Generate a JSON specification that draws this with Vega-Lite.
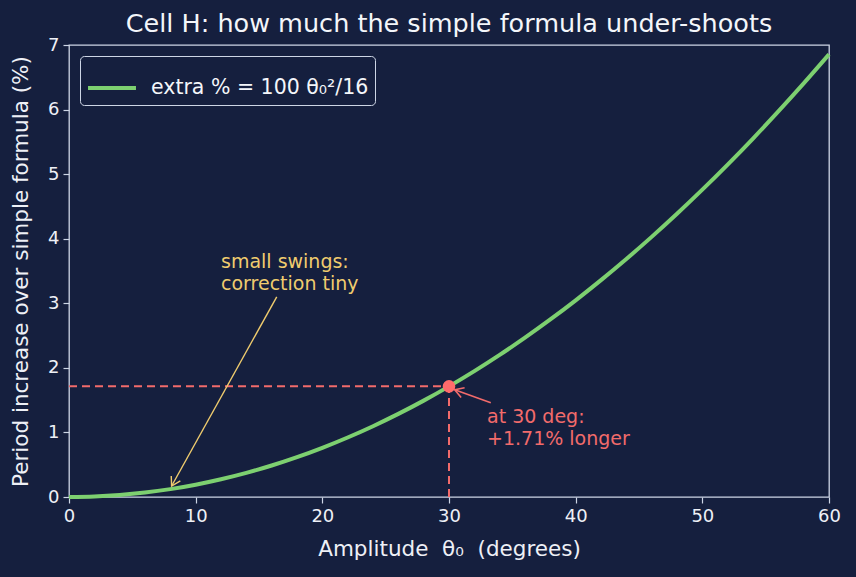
{
  "$schema": "https://vega.github.io/schema/vega-lite/v6.json",
  "width": 760,
  "height": 452,
  "autosize": {"type": "none"},
  "padding": {"left": 69, "top": 45, "right": 27, "bottom": 80},
  "background": "#151f3e",
  "title": {
    "text": "Cell H: how much the simple formula under-shoots",
    "fontSize": 25.5,
    "fontWeight": "normal",
    "color": "#f4f6fa",
    "anchor": "middle",
    "offset": -1,
    "font": "DejaVu Sans"
  },
  "datasets": {
    "curve": [
      {"deg": 0, "extra": 0, "series": "extra % = 100 θ₀²/16"},
      {"deg": 2, "extra": 0.0076, "series": "extra % = 100 θ₀²/16"},
      {"deg": 4, "extra": 0.0305, "series": "extra % = 100 θ₀²/16"},
      {"deg": 6, "extra": 0.0685, "series": "extra % = 100 θ₀²/16"},
      {"deg": 8, "extra": 0.1218, "series": "extra % = 100 θ₀²/16"},
      {"deg": 10, "extra": 0.1904, "series": "extra % = 100 θ₀²/16"},
      {"deg": 12, "extra": 0.2742, "series": "extra % = 100 θ₀²/16"},
      {"deg": 14, "extra": 0.3732, "series": "extra % = 100 θ₀²/16"},
      {"deg": 16, "extra": 0.4874, "series": "extra % = 100 θ₀²/16"},
      {"deg": 18, "extra": 0.6168, "series": "extra % = 100 θ₀²/16"},
      {"deg": 20, "extra": 0.7615, "series": "extra % = 100 θ₀²/16"},
      {"deg": 22, "extra": 0.9215, "series": "extra % = 100 θ₀²/16"},
      {"deg": 24, "extra": 1.0966, "series": "extra % = 100 θ₀²/16"},
      {"deg": 26, "extra": 1.287, "series": "extra % = 100 θ₀²/16"},
      {"deg": 28, "extra": 1.4926, "series": "extra % = 100 θ₀²/16"},
      {"deg": 30, "extra": 1.7135, "series": "extra % = 100 θ₀²/16"},
      {"deg": 32, "extra": 1.9496, "series": "extra % = 100 θ₀²/16"},
      {"deg": 34, "extra": 2.2009, "series": "extra % = 100 θ₀²/16"},
      {"deg": 36, "extra": 2.4674, "series": "extra % = 100 θ₀²/16"},
      {"deg": 38, "extra": 2.7492, "series": "extra % = 100 θ₀²/16"},
      {"deg": 40, "extra": 3.0462, "series": "extra % = 100 θ₀²/16"},
      {"deg": 42, "extra": 3.3584, "series": "extra % = 100 θ₀²/16"},
      {"deg": 44, "extra": 3.6859, "series": "extra % = 100 θ₀²/16"},
      {"deg": 46, "extra": 4.0286, "series": "extra % = 100 θ₀²/16"},
      {"deg": 48, "extra": 4.3865, "series": "extra % = 100 θ₀²/16"},
      {"deg": 50, "extra": 4.7597, "series": "extra % = 100 θ₀²/16"},
      {"deg": 52, "extra": 5.148, "series": "extra % = 100 θ₀²/16"},
      {"deg": 54, "extra": 5.5517, "series": "extra % = 100 θ₀²/16"},
      {"deg": 56, "extra": 5.9705, "series": "extra % = 100 θ₀²/16"},
      {"deg": 58, "extra": 6.4046, "series": "extra % = 100 θ₀²/16"},
      {"deg": 60, "extra": 6.8539, "series": "extra % = 100 θ₀²/16"}
    ],
    "guides": [
      {"x1": 0, "x2": 30, "y1": 1.7135, "y2": 1.7135},
      {"x1": 30, "x2": 30, "y1": 0, "y2": 1.7135}
    ],
    "marker": [{"deg": 30, "extra": 1.7135}],
    "arrows": [
      {"name": "small", "x1": 16.4, "y1": 3.1, "x2": 8.1, "y2": 0.17},
      {"name": "big", "x1": 33.3, "y1": 1.46, "x2": 30.45, "y2": 1.66}
    ],
    "notes": [
      {"name": "small", "x": 12, "y": 3.2, "label": ["small swings:", "correction tiny"]},
      {"name": "big", "x": 33, "y": 0.8, "label": ["at 30 deg:", "+1.71% longer"]}
    ]
  },
  "layer": [
    {
      "data": {"name": "curve"},
      "mark": {"type": "line", "strokeWidth": 4, "interpolate": "monotone"},
      "encoding": {
        "x": {
          "field": "deg", "type": "quantitative",
          "scale": {"domain": [0, 60], "nice": false, "zero": false},
          "axis": {"values": [0, 10, 20, 30, 40, 50, 60], "format": "d", "labelFlush": false, "title": "Amplitude\u00a0 θ₀\u00a0 (degrees)", "titlePadding": 13}
        },
        "y": {
          "field": "extra", "type": "quantitative",
          "scale": {"domain": [0, 7], "nice": false},
          "axis": {"values": [0, 1, 2, 3, 4, 5, 6, 7], "format": "d", "labelFlush": false, "title": "Period increase over simple formula (%)", "titlePadding": 15}
        },
        "color": {
          "field": "series", "type": "nominal",
          "scale": {"range": ["#7dd070"]},
          "legend": {
            "title": null,
            "orient": "top-left",
            "offset": 11,
            "padding": 6,
            "symbolType": "stroke",
            "symbolSize": 2300,
            "symbolStrokeWidth": 4,
            "labelFontSize": 20.5,
            "labelLimit": 500,
            "labelColor": "#f4f6fa",
            "labelOffset": 13,
            "strokeColor": "#cdd5e5",
            "fillColor": "#151f3e",
            "cornerRadius": 4
          }
        }
      }
    },
    {
      "data": {"name": "guides"},
      "mark": {"type": "rule", "color": "#f26b6b", "strokeWidth": 2, "strokeDash": [8, 5]},
      "encoding": {
        "x": {"field": "x1", "type": "quantitative"},
        "x2": {"field": "x2"},
        "y": {"field": "y1", "type": "quantitative"},
        "y2": {"field": "y2"}
      }
    },
    {
      "data": {"name": "marker"},
      "mark": {"type": "point", "filled": true, "color": "#ff6b6b", "size": 160, "opacity": 1},
      "encoding": {
        "x": {"field": "deg", "type": "quantitative"},
        "y": {"field": "extra", "type": "quantitative"}
      }
    },
    {
      "data": {"name": "arrows"},
      "transform": [{"filter": "datum.name === 'small'"}],
      "mark": {"type": "rule", "color": "#f0cc6e", "strokeWidth": 1.4},
      "encoding": {
        "x": {"field": "x1", "type": "quantitative"},
        "x2": {"field": "x2"},
        "y": {"field": "y1", "type": "quantitative"},
        "y2": {"field": "y2"}
      }
    },
    {
      "data": {"name": "arrows"},
      "transform": [{"filter": "datum.name === 'small'"}],
      "mark": {"type": "point", "shape": "M -1 -0.6 L 0 0 L -1 0.6", "filled": false, "color": "#f0cc6e", "strokeWidth": 1.4, "size": 300, "angle": 119, "opacity": 1},
      "encoding": {
        "x": {"field": "x2", "type": "quantitative"},
        "y": {"field": "y2", "type": "quantitative"}
      }
    },
    {
      "data": {"name": "arrows"},
      "transform": [{"filter": "datum.name === 'big'"}],
      "mark": {"type": "rule", "color": "#f26b6b", "strokeWidth": 1.6},
      "encoding": {
        "x": {"field": "x1", "type": "quantitative"},
        "x2": {"field": "x2"},
        "y": {"field": "y1", "type": "quantitative"},
        "y2": {"field": "y2"}
      }
    },
    {
      "data": {"name": "arrows"},
      "transform": [{"filter": "datum.name === 'big'"}],
      "mark": {"type": "point", "shape": "M -1 -0.6 L 0 0 L -1 0.6", "filled": false, "color": "#f26b6b", "strokeWidth": 1.6, "size": 300, "angle": 199.5, "opacity": 1},
      "encoding": {
        "x": {"field": "x2", "type": "quantitative"},
        "y": {"field": "y2", "type": "quantitative"}
      }
    },
    {
      "data": {"name": "notes"},
      "transform": [{"filter": "datum.name === 'small'"}],
      "mark": {"type": "text", "align": "left", "baseline": "alphabetic", "fontSize": 19, "color": "#f0cc6e", "lineHeight": 22, "dy": -22},
      "encoding": {
        "x": {"field": "x", "type": "quantitative"},
        "y": {"field": "y", "type": "quantitative"},
        "text": {"field": "label"}
      }
    },
    {
      "data": {"name": "notes"},
      "transform": [{"filter": "datum.name === 'big'"}],
      "mark": {"type": "text", "align": "left", "baseline": "alphabetic", "fontSize": 19, "color": "#f26b6b", "lineHeight": 22, "dy": -22},
      "encoding": {
        "x": {"field": "x", "type": "quantitative"},
        "y": {"field": "y", "type": "quantitative"},
        "text": {"field": "label"}
      }
    }
  ],
  "config": {
    "font": "DejaVu Sans",
    "view": {"stroke": "#cdd5e5", "strokeWidth": 1.3},
    "axis": {
      "grid": false,
      "domain": false,
      "ticks": true,
      "tickColor": "#cdd5e5",
      "tickSize": 6,
      "tickWidth": 1.2,
      "labelColor": "#eef0f6",
      "labelFontSize": 18,
      "labelPadding": 4,
      "titleColor": "#eef0f6",
      "titleFontSize": 21.5,
      "titleFontWeight": "normal",
      "labelFont": "DejaVu Sans",
      "titleFont": "DejaVu Sans"
    }
  }
}
